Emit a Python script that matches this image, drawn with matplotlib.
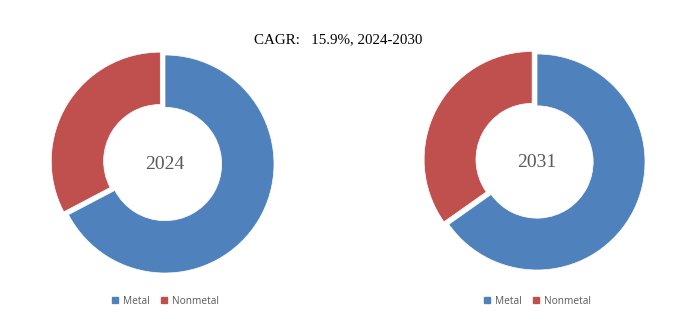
import matplotlib
matplotlib.use("Agg")
from matplotlib import pyplot as plt
from matplotlib.lines import Line2D

labels = ["Metal", "Nonmetal"]
share_2024 = [67.3, 32.7]
share_2031 = [65.2, 34.8]
years = ["2024", "2031"]
title = "CAGR:   15.9%, 2024-2030"
colors = ["#4F81BD", "#C0504D"]

fig = plt.figure(figsize=(6.97, 3.22), dpi=100)

# one axes per donut, data coords = pixels
ax1 = fig.add_axes([0, 0, 0.5, 1])
ax2 = fig.add_axes([0.5, 0, 0.5, 1])

for ax, x0, vals, yr, cx, cy, r in [(ax1, 0, share_2024, years[0], 165, 158, 109),
                                     (ax2, 348.5, share_2031, years[1], 537, 160, 108)]:
    # explode is in data units here (pixels)
    ax.pie(vals, colors=colors, startangle=90, counterclock=False,
           center=(cx, cy), radius=r, explode=[0, 5.5],
           wedgeprops=dict(width=r * 0.48, edgecolor="white", linewidth=0.5))
    ax.set_xlim(x0, x0 + 348.5)
    ax.set_ylim(0, 322)
    ax.set_aspect("equal")
    ax.axis("off")
    ax.text(cx, cy, yr, ha="center", va="center", fontsize=14,
            color="#595959", family="Liberation Serif")
    handles = [Line2D([], [], marker="s", ls="", markersize=4, color=c) for c in colors]
    ax.legend(handles, labels, loc="center", bbox_to_anchor=((cx - x0) / 348.5, 21 / 322),
              ncol=2, frameon=False, handlelength=0.7, handletextpad=0.4, columnspacing=1.1,
              prop=dict(family="Open Sans", size=7.3), labelcolor="#595959")

fig.text(338 / 697, 1 - 40 / 322, title, ha="center", va="center",
         fontsize=10.8, family="Liberation Serif", color="black")

fig.savefig("out.png", dpi=100)
